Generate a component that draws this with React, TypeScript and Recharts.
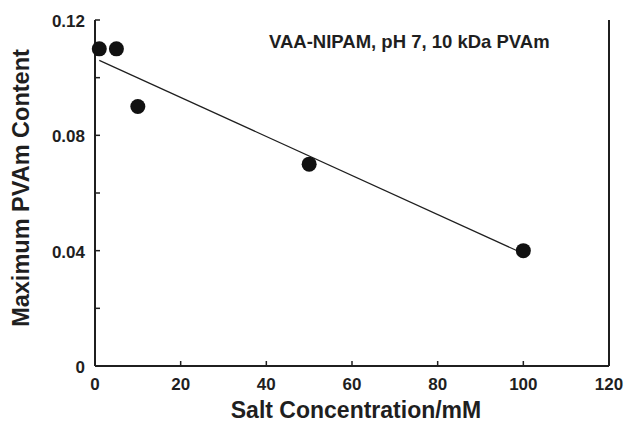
import React from "react";
import {
  ComposedChart,
  Scatter,
  Line,
  XAxis,
  YAxis,
  ReferenceLine,
} from "recharts";

// measured points
const saltConc = [1, 5, 10, 50, 100];
const maxPVAm = [0.11, 0.11, 0.09, 0.07, 0.04];

// fitted line, end points
const fitX = [1, 100];
const fitY = [0.106, 0.039];

const xTicks = [0, 20, 40, 60, 80, 100, 120];
const yTicks = [0, 0.02, 0.04, 0.06, 0.08, 0.1, 0.12];
const yLabels: Record<string, string> = {
  "0": "0",
  "0.04": "0.04",
  "0.08": "0.08",
  "0.12": "0.12",
};

const points = saltConc.map((x, i) => ({ x, y: maxPVAm[i] }));
const fit = fitX.map((x, i) => ({ x, y: fitY[i] }));

const INK = "#1f1f1f";
const FONT = "'Liberation Sans', Arial, sans-serif";

function XTick(props: any) {
  const { x, y, payload } = props;
  return (
    <g>
      <line x1={x} y1={y} x2={x} y2={y - 5} stroke={INK} strokeWidth={1.5} />
      <text
        x={x}
        y={y + 24}
        textAnchor="middle"
        fontFamily={FONT}
        fontWeight="bold"
        fontSize={17}
        fill={INK}
      >
        {payload.value}
      </text>
    </g>
  );
}

function YTick(props: any) {
  const { x, y, payload } = props;
  const lbl = yLabels[String(Math.round(payload.value * 100) / 100)];
  return (
    <g>
      <line x1={x} y1={y} x2={x + 5} y2={y} stroke={INK} strokeWidth={1.5} />
      {lbl && (
        <text
          x={x - 10}
          y={y + 7}
          textAnchor="end"
          fontFamily={FONT}
          fontWeight="bold"
          fontSize={17}
          fill={INK}
        >
          {lbl}
        </text>
      )}
    </g>
  );
}

export default function App() {
  return (
    <div
      style={{
        position: "fixed",
        top: 0,
        left: 0,
        width: 624,
        height: 423,
        background: "#fff",
      }}
    >
      <ComposedChart
        width={624}
        height={423}
        margin={{ top: 20, right: 15, bottom: 0, left: 0 }}
        style={{ overflow: "visible" }}
      >
        <XAxis
          dataKey="x"
          type="number"
          domain={[0, 120]}
          ticks={xTicks}
          height={57}
          tickSize={0}
          tickMargin={0}
          tickLine={false}
          tick={<XTick />}
          axisLine={{ stroke: INK, strokeWidth: 2 }}
        />
        <XAxis
          xAxisId="top"
          orientation="top"
          type="number"
          domain={[0, 120]}
          height={0}
          tick={false}
          tickLine={false}
          axisLine={{ stroke: INK, strokeWidth: 2 }}
        />
        <YAxis
          dataKey="y"
          type="number"
          domain={[0, 0.12]}
          ticks={yTicks}
          width={95}
          tickSize={0}
          tickMargin={0}
          tickLine={false}
          tick={<YTick />}
          axisLine={{ stroke: INK, strokeWidth: 2 }}
        />
        <ReferenceLine x={120} stroke={INK} strokeWidth={2} ifOverflow="visible" />
        <Line
          data={fit}
          dataKey="y"
          type="linear"
          stroke={INK}
          strokeWidth={1.2}
          dot={false}
          activeDot={false}
          isAnimationActive={false}
        />
        <Scatter
          data={points}
          dataKey="y"
          fill="#111"
          shape={(p: any) => <circle cx={p.cx} cy={p.cy} r={7.5} fill="#111" />}
          isAnimationActive={false}
        />
        <text
          x={269}
          y={48}
          fontFamily={FONT}
          fontWeight="bold"
          fontSize={18.5}
          fill={INK}
        >
          VAA-NIPAM, pH 7, 10 kDa PVAm
        </text>
        <text
          x={356}
          y={418}
          textAnchor="middle"
          fontFamily={FONT}
          fontWeight="bold"
          fontSize={23}
          fill={INK}
        >
          Salt Concentration/mM
        </text>
        <text
          x={29}
          y={188}
          transform="rotate(-90, 29, 188)"
          textAnchor="middle"
          fontFamily={FONT}
          fontWeight="bold"
          fontSize={23.5}
          fill={INK}
        >
          Maximum PVAm Content
        </text>
      </ComposedChart>
    </div>
  );
}
